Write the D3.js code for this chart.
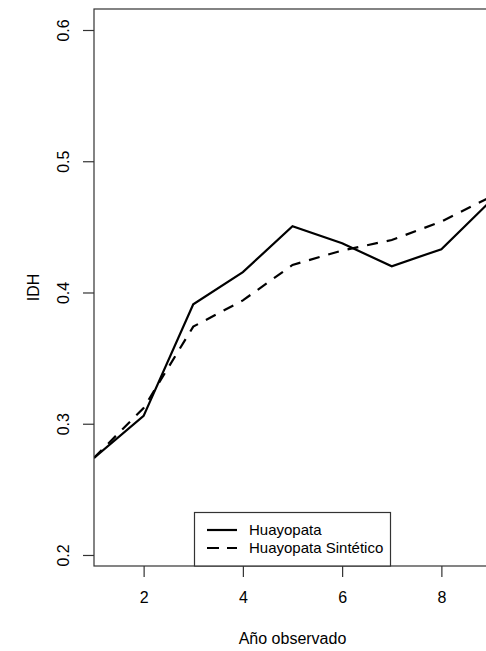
<!DOCTYPE html>
<html>
<head>
<meta charset="utf-8">
<script src="https://cdn.jsdelivr.net/npm/d3@7"></script>
<style>
  body { margin: 0; background: #fff; }
  text { font-family: "Liberation Sans", Arial, Helvetica, sans-serif; fill: #000; }
</style>
</head>
<body>
<div id="chart"></div>
<script>
var years = [1, 2, 3, 4, 5, 6, 7, 8, 9];
var huayopata = [0.274, 0.306, 0.391, 0.4155, 0.4505, 0.4375, 0.420, 0.433, 0.470];
var sintetico = [0.274, 0.312, 0.374, 0.394, 0.421, 0.432, 0.440, 0.454, 0.473];
var xTicks = [2, 4, 6, 8];
var yTicks = [0.2, 0.3, 0.4, 0.5, 0.6];
var seriesNames = ["Huayopata", "Huayopata Sintético"];

var width = 486, height = 651,
    margin = {top: 9, right: -5, bottom: 85, left: 94};

var x = d3.scaleLinear()
    .domain([1, 9])
    .range([margin.left, width - margin.right]);

var y = d3.scaleLinear()
    .domain([0.1916, 0.616])
    .range([height - margin.bottom, margin.top]);

var svg = d3.select("#chart").append("svg")
    .attr("width", width)
    .attr("height", height);

svg.append("clipPath").attr("id", "plot-clip")
  .append("rect")
    .attr("x", x.range()[0])
    .attr("y", margin.top)
    .attr("width", x.range()[1] - x.range()[0])
    .attr("height", y.range()[0] - margin.top);

var line = d3.line()
    .x(function(d) { return x(d[0]); })
    .y(function(d) { return y(d[1]); });

var lines = svg.append("g").attr("clip-path", "url(#plot-clip)");

lines.append("path")
    .datum(d3.zip(years, huayopata))
    .attr("fill", "none")
    .attr("stroke", "#000")
    .attr("stroke-width", 2.2)
    .attr("d", line);

lines.append("path")
    .datum(d3.zip(years, sintetico))
    .attr("fill", "none")
    .attr("stroke", "#000")
    .attr("stroke-width", 2.2)
    .attr("stroke-dasharray", "11,9")
    .attr("d", line);

// box around the plot region
svg.append("rect")
    .attr("x", x.range()[0])
    .attr("y", margin.top)
    .attr("width", x.range()[1] - x.range()[0])
    .attr("height", y.range()[0] - margin.top)
    .attr("fill", "none")
    .attr("stroke", "#333")
    .attr("stroke-width", 1.2);

// axes, R style
var xAxis = d3.axisBottom(x).tickValues(xTicks).tickSize(11).tickPadding(15)
    .tickFormat(d3.format("d"));
var gx = svg.append("g")
    .attr("transform", "translate(0," + y.range()[0] + ")")
    .call(xAxis);
gx.select(".domain").remove();
gx.selectAll("line").attr("stroke", "#333").attr("stroke-width", 1.2);
gx.selectAll("text").attr("font-size", 16).attr("font-family", null);

var yAxis = d3.axisLeft(y).tickValues(yTicks).tickSize(11).tickPadding(0)
    .tickFormat(d3.format(".1f"));
var gy = svg.append("g")
    .attr("transform", "translate(" + x.range()[0] + ",0)")
    .call(yAxis);
gy.select(".domain").remove();
gy.selectAll("line").attr("stroke", "#333").attr("stroke-width", 1.2);
gy.selectAll("text")
    .attr("font-size", 16)
    .attr("font-family", null)
    .attr("x", null).attr("dy", null)
    .attr("text-anchor", "middle")
    .attr("transform", "translate(-31,0) rotate(-90)")
    .attr("dy", "0.35em");

svg.append("text")
    .attr("x", (x.range()[0] + x.range()[1]) / 2)
    .attr("y", 644)
    .attr("text-anchor", "middle")
    .attr("font-size", 16)
    .text("Año observado");

svg.append("text")
    .attr("transform", "translate(39," + (y.range()[0] + margin.top) / 2 + ") rotate(-90)")
    .attr("text-anchor", "middle")
    .attr("font-size", 16)
    .text("IDH");

// legend
var legend = svg.append("g");
legend.append("rect")
    .attr("x", 194.5).attr("y", 512.5)
    .attr("width", 196).attr("height", y.range()[0] - 512.5)
    .attr("fill", "#fff")
    .attr("stroke", "#333")
    .attr("stroke-width", 1.2);

var items = legend.selectAll(".item")
    .data(seriesNames)
  .enter().append("g")
    .attr("transform", function(d, i) { return "translate(207," + (530 + i * 18) + ")"; });

items.append("line")
    .attr("x1", 0).attr("x2", 30)
    .attr("stroke", "#000")
    .attr("stroke-width", 2.2)
    .attr("stroke-dasharray", function(d, i) { return i ? "12,8" : null; });

items.append("text")
    .attr("x", 42)
    .attr("dy", "0.35em")
    .attr("font-size", 15)
    .text(function(d) { return d; });
</script>
</body>
</html>
